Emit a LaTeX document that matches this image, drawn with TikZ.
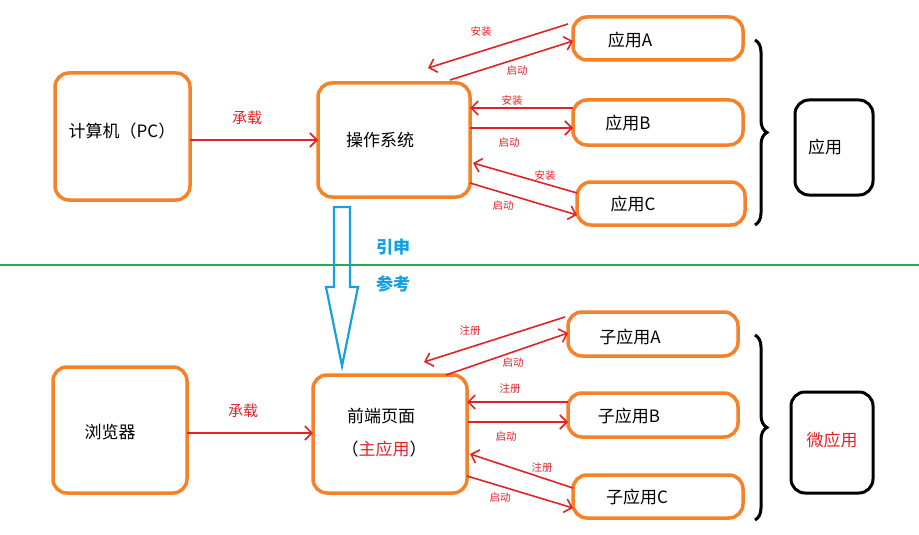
\documentclass[tikz,border=0pt]{standalone}
\usepackage{fontspec}
\setmainfont{Noto Sans CJK SC}
\usetikzlibrary{arrows.meta,decorations.pathreplacing}
\definecolor{org}{RGB}{245,130,40}
\definecolor{rd}{RGB}{225,35,40}
\definecolor{bl}{RGB}{20,160,225}
\definecolor{gr}{RGB}{40,170,70}
\begin{document}
\begin{tikzpicture}[x=1pt,y=-1pt,
 box/.style={draw=org,line width=3.5pt,rounded corners=14pt},
 bbox/.style={draw=black,line width=3pt,rounded corners=14pt},
 arr/.style={draw=rd,line width=1.6pt,-{Straight Barb[length=7pt,width=14pt]}},
 lab/.style={text=rd,font=\fontsize{10.5}{12}\selectfont},
 big/.style={font=\fontsize{17}{19}\selectfont}]
\useasboundingbox (0,0) rectangle (919,535);
% top
\draw[box] (55,73) rectangle (190,200); \node[big] (pc) at (122,131) {计算机（PC）};
\draw[box] (318,83) rectangle (470,197); \node[big] (os) at (380,140) {操作系统};
\draw[box] (573,17) rectangle (743,60); \node[big] (a) at (630,40) {应用A};
\draw[box] (573,100) rectangle (743,145); \node[big] (b) at (628,123) {应用B};
\draw[box] (577,182) rectangle (745,225); \node[big] (c) at (633,204) {应用C};
\draw[bbox] (795,100) rectangle (873,195); \node[big] (app) at (825,147) {应用};
\draw[line width=3pt,decorate,decoration={brace,amplitude=12pt}] (755,40) -- (755,225);
\coordinate (p1) at (190,140); \coordinate (p2) at (318,140);
\draw[arr] (p1) -- (p2); \node[lab,font=\fontsize{15}{16}\selectfont] at (247,118) {承载};
\coordinate (t1) at (568,24); \coordinate (t2) at (428,68);
\coordinate (t3) at (450,80); \coordinate (t4) at (573,41);
\coordinate (t5) at (573,108); \coordinate (t6) at (470,108);
\coordinate (t7) at (470,128); \coordinate (t8) at (573,128);
\coordinate (t9) at (577,193); \coordinate (t10) at (473,163);
\coordinate (t11) at (470,183); \coordinate (t12) at (577,215);
\draw[arr] (t1)--(t2); \draw[arr] (t3)--(t4); \draw[arr] (t5)--(t6);
\draw[arr] (t7)--(t8); \draw[arr] (t9)--(t10); \draw[arr] (t11)--(t12);
\node[lab] at (481,32) {安装}; \node[lab] at (517,71) {启动};
\node[lab] at (512,101) {安装}; \node[lab] at (509,143) {启动};
\node[lab] at (545,176) {安装}; \node[lab] at (503,206) {启动};
% middle
\draw[gr,line width=2pt] (0,265) -- (919,265);
\draw[bl,line width=2.2pt] (334,207) -- (350,207) -- (350,287) -- (358,287) -- (342,366) -- (326,287) -- (334,287) -- cycle;
\node[text=bl,font=\bfseries\fontsize{17}{19}\selectfont] at (393,247) {引申};
\node[text=bl,font=\bfseries\fontsize{17}{19}\selectfont] at (393,284) {参考};
% bottom
\draw[box] (53,367) rectangle (187,493); \node[big] (br) at (110,432) {浏览器};
\draw[box] (313,375) rectangle (467,493);
\node[big] (fe) at (381,416) {前端页面};
\node[big] (main) at (384,449) {（\textcolor{rd}{主应用}）};
\draw[box] (568,312) rectangle (738,356); \node[big] (sa) at (630,337) {子应用A};
\draw[box] (568,393) rectangle (738,437); \node[big] (sb) at (629,416) {子应用B};
\draw[box] (573,475) rectangle (743,518); \node[big] (sc) at (637,497) {子应用C};
\draw[bbox] (791,392) rectangle (873,493); \node[big,text=rd] (mapp) at (832,440) {微应用};
\draw[line width=3pt,decorate,decoration={brace,amplitude=12pt}] (755,335) -- (755,520);
\coordinate (q1) at (187,433); \coordinate (q2) at (313,433);
\draw[arr] (q1) -- (q2); \node[lab,font=\fontsize{15}{16}\selectfont] at (243,411) {承载};
\coordinate (u1) at (565,317); \coordinate (u2) at (424,362);
\coordinate (u3) at (446,375); \coordinate (u4) at (568,333);
\coordinate (u5) at (568,402); \coordinate (u6) at (467,402);
\coordinate (u7) at (468,422); \coordinate (u8) at (568,422);
\coordinate (u9) at (573,488); \coordinate (u10) at (470,454);
\coordinate (u11) at (467,476); \coordinate (u12) at (573,508);
\draw[arr] (u1)--(u2); \draw[arr] (u3)--(u4); \draw[arr] (u5)--(u6);
\draw[arr] (u7)--(u8); \draw[arr] (u9)--(u10); \draw[arr] (u11)--(u12);
\node[lab] at (470,331) {注册}; \node[lab] at (513,363) {启动};
\node[lab] at (510,389) {注册}; \node[lab] at (506,437) {启动};
\node[lab] at (542,468) {注册}; \node[lab] at (500,498) {启动};
\end{tikzpicture}
\end{document}
